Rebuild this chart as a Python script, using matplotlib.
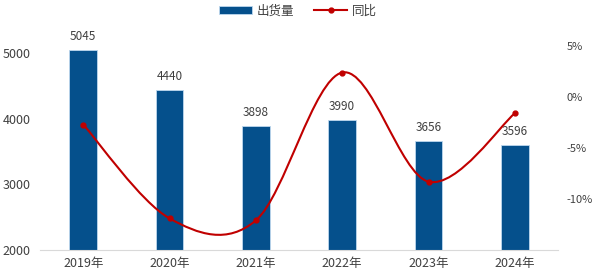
import numpy as np
import matplotlib
matplotlib.use("Agg")
import matplotlib.pyplot as plt
from matplotlib.lines import Line2D
from matplotlib.patches import Patch
from matplotlib.path import Path
from matplotlib.patches import PathPatch

plt.rcParams['font.family'] = ['Noto Sans CJK SC', 'DejaVu Sans']

# 数据
years = ['2019年', '2020年', '2021年', '2022年', '2023年', '2024年']
shipments = [5045, 4440, 3898, 3990, 3656, 3596]
yoy = [-2.7, -11.9, -12.1, 2.4, -8.3, -1.6]

BAR_COLOR = '#05508C'
LINE_COLOR = '#C00000'
TEXT_COLOR = '#404040'

fig = plt.figure(figsize=(6, 2.76), dpi=100)
ax = fig.add_axes([0.0667, 0.0942, 0.8633, 0.8315])
x = np.arange(len(years))

ax.bar(x, shipments, width=0.32, color=BAR_COLOR, edgecolor='#BDD7EE', linewidth=0.6, zorder=2)
for xi, v in zip(x, shipments):
    ax.annotate(str(v), (xi, v), xytext=(0, 5), textcoords='offset points',
                ha='center', va='bottom', fontsize=8.5, color=TEXT_COLOR)

ax.set_xlim(-0.5, len(years) - 0.5)
ax.set_ylim(2000, 5500)
ax.set_yticks([2000, 3000, 4000, 5000])
ax.set_xticks(x)
ax.set_xticklabels(years)
for s in ['top', 'right', 'left']:
    ax.spines[s].set_visible(False)
ax.spines['bottom'].set_color('#D9D9D9')
ax.tick_params(axis='both', length=0, labelsize=9, colors=TEXT_COLOR)
ax.tick_params(axis='y', pad=7)
ax.tick_params(axis='x', pad=5)

# 同比 - 平滑曲线 (Bezier)
ax2 = ax.twinx()
ax2.set_ylim(-15, 7.5)
ax2.set_yticks([-10, -5, 0, 5])
ax2.set_yticklabels(['-10%', '-5%', '0%', '5%'])
for s in ax2.spines.values():
    s.set_visible(False)
ax2.tick_params(axis='y', length=0, labelsize=8, colors=TEXT_COLOR, pad=6)

pts = np.column_stack([x, yoy]).astype(float)
n = len(pts)
verts = [pts[0]]
codes = [Path.MOVETO]
for i in range(n - 1):
    p_prev = pts[i - 1] if i > 0 else pts[i]
    p_next2 = pts[i + 2] if i + 2 < n else pts[i + 1]
    c1 = pts[i] + (pts[i + 1] - p_prev) / 6
    c2 = pts[i + 1] - (p_next2 - pts[i]) / 6
    verts += [c1, c2, pts[i + 1]]
    codes += [Path.CURVE4] * 3
ax2.add_patch(PathPatch(Path(verts, codes), facecolor='none', edgecolor=LINE_COLOR, lw=1.5, zorder=3))
ax2.plot(x, yoy, 'o', color=LINE_COLOR, ms=3.5, zorder=4)

handles = [Patch(facecolor=BAR_COLOR, edgecolor='#BDD7EE', linewidth=0.6),
           Line2D([0], [0], color=LINE_COLOR, lw=1.5, marker='o', ms=3.5)]
fig.legend(handles, ['出货量', '同比'], loc='center', bbox_to_anchor=(0.497, 0.96),
           ncol=2, frameon=False, fontsize=9, handlelength=2.6, handleheight=0.6,
           columnspacing=1.6, handletextpad=0.4, labelcolor=TEXT_COLOR)

fig.savefig('out.png', dpi=100)
